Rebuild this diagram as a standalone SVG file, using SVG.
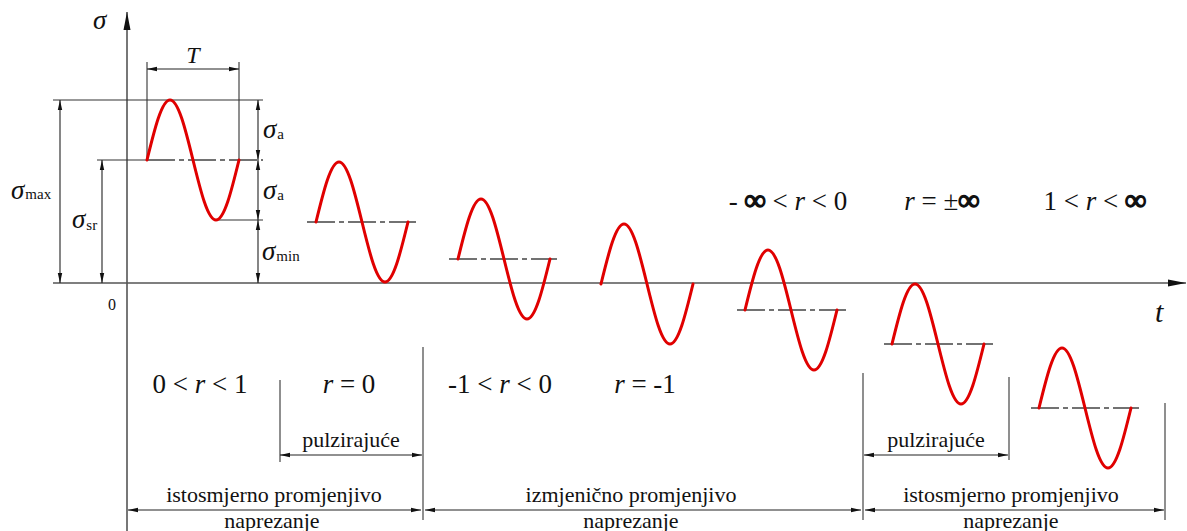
<svg xmlns="http://www.w3.org/2000/svg" xmlns:xlink="http://www.w3.org/1999/xlink" width="1187" height="531" viewBox="0 0 1187 531" font-family="'Liberation Serif', Tinos, 'DejaVu Serif', serif">
<style>
text{font-family:'Liberation Serif',Tinos,'DejaVu Serif',serif;fill:#111}
.lbl{font-size:22px}
.r{font-size:27px}
.i{font-style:italic}
.b{font-weight:bold;font-size:30px;stroke:#111;stroke-width:1.4}
.sg{font-size:27px;font-style:italic}
.sub{font-size:15px;font-style:normal}
.ax{stroke:#555;stroke-width:1.6;fill:none}
.dim{stroke:#222;stroke-width:1.1;fill:none}
.ext{stroke:#333;stroke-width:1.1;fill:none}
.mean{stroke:#444;stroke-width:1.5;fill:none;stroke-dasharray:28 4 5 4}
.wave{stroke:#e00000;stroke-width:3;fill:none;stroke-linecap:round;stroke-linejoin:round}
</style>
<defs>
<marker id="ah" viewBox="0 0 10 6" refX="10" refY="3" markerWidth="10" markerHeight="6" markerUnits="userSpaceOnUse" orient="auto-start-reverse">
<path d="M0,0.8 L10,3 L0,5.2 z" fill="#111"/>
</marker>
<marker id="axh" viewBox="0 0 18 8" refX="18" refY="4" markerWidth="18" markerHeight="8" markerUnits="userSpaceOnUse" orient="auto">
<path d="M0,0.5 L18,4 L0,7.5 z" fill="#111"/>
</marker>
<path id="wv" class="wave" d="M0,0 C7.5,-30.7 14.7,-60 23,-60 C31.3,-60 38.5,-30.7 46,0 C53.5,30.7 60.7,60 69,60 C77.3,60 84.5,30.7 92,0"/>
</defs>

<g id="axes">
<line class="ax" x1="127" y1="531" x2="127" y2="12" marker-end="url(#axh)"/>
<line class="ax" x1="53" y1="283" x2="1186" y2="283" marker-end="url(#axh)"/>
<text x="93" y="29" class="sg">σ</text>
<text x="108" y="310" style="font-size:16px">0</text>
<text x="1155" y="322" class="i" style="font-size:30px">t</text>
</g>

<g id="dimensions">
<line class="ext" x1="53" y1="100" x2="263" y2="100"/>
<line class="ext" x1="97" y1="160" x2="147" y2="160"/>
<line class="ext" x1="217" y1="220" x2="263" y2="220"/>
<line class="ext" x1="147" y1="62" x2="147" y2="160"/>
<line class="ext" x1="239" y1="62" x2="239" y2="160"/>
<line class="dim" x1="147" y1="69" x2="239" y2="69" marker-start="url(#ah)" marker-end="url(#ah)"/>
<text x="193" y="63" class="i" style="font-size:24px" text-anchor="middle">T</text>
<line class="dim" x1="60" y1="100" x2="60" y2="283" marker-start="url(#ah)" marker-end="url(#ah)"/>
<line class="dim" x1="102" y1="160" x2="102" y2="283" marker-start="url(#ah)" marker-end="url(#ah)"/>
<line class="dim" x1="258" y1="100" x2="258" y2="160" marker-start="url(#ah)" marker-end="url(#ah)"/>
<line class="dim" x1="258" y1="160" x2="258" y2="220" marker-start="url(#ah)" marker-end="url(#ah)"/>
<line class="dim" x1="258" y1="220" x2="258" y2="283" marker-start="url(#ah)" marker-end="url(#ah)"/>
<text x="11" y="199" class="sg">σ<tspan class="sub" dx="1">max</tspan></text>
<text x="72" y="228" class="sg">σ<tspan class="sub" dx="1" dy="2">sr</tspan></text>
<text x="263" y="138" class="sg">σ<tspan class="sub" dx="1" dy="1">a</tspan></text>
<text x="263" y="199" class="sg">σ<tspan class="sub" dx="1" dy="1">a</tspan></text>
<text x="262" y="260" class="sg">σ<tspan class="sub" dx="1" dy="1">min</tspan></text>
</g>

<g id="wave1">
<line class="mean" x1="147" y1="160" x2="263" y2="160"/>
<use xlink:href="#wv" x="147" y="160"/>
</g>
<g id="wave2">
<line class="mean" x1="307" y1="222" x2="416" y2="222"/>
<use xlink:href="#wv" x="316" y="222"/>
</g>
<g id="wave3">
<line class="mean" x1="449" y1="259" x2="557" y2="259"/>
<use xlink:href="#wv" x="458" y="259"/>
</g>
<g id="wave4">
<use xlink:href="#wv" x="601" y="284"/>
</g>
<g id="wave5">
<line class="mean" x1="737" y1="310" x2="846" y2="310"/>
<use xlink:href="#wv" x="745" y="310"/>
</g>
<g id="wave6">
<line class="mean" x1="884" y1="344" x2="993" y2="344"/>
<use xlink:href="#wv" x="892" y="344"/>
</g>
<g id="wave7">
<line class="mean" x1="1031" y1="408" x2="1139" y2="408"/>
<use xlink:href="#wv" x="1039" y="408"/>
</g>

<g id="ratios">
<text x="200" y="393" class="r" text-anchor="middle">0 &lt; <tspan class="i">r</tspan> &lt; 1</text>
<text x="349" y="393" class="r" text-anchor="middle"><tspan class="i">r</tspan> = 0</text>
<text x="500" y="393" class="r" text-anchor="middle">-1 &lt; <tspan class="i">r</tspan> &lt; 0</text>
<text x="645" y="393" class="r" text-anchor="middle"><tspan class="i">r</tspan> = -1</text>
<text x="788" y="210" class="r" text-anchor="middle">- <tspan class="b">∞</tspan> &lt; <tspan class="i">r</tspan> &lt; 0</text>
<text x="942" y="210" class="r" text-anchor="middle"><tspan class="i">r</tspan> = ±<tspan class="b">∞</tspan></text>
<text x="1095" y="210" class="r" text-anchor="middle">1 &lt; <tspan class="i">r</tspan> &lt;  <tspan class="b">∞</tspan></text>
</g>

<g id="connectors">
<line class="ext" x1="280" y1="380" x2="280" y2="462"/>
<line class="ext" x1="423" y1="347" x2="423" y2="520"/>
<line class="ext" x1="863" y1="373" x2="863" y2="520"/>
<line class="ext" x1="1009" y1="377" x2="1009" y2="460"/>
<line class="ext" x1="1165" y1="403" x2="1165" y2="520"/>
<line class="dim" x1="280" y1="455" x2="422" y2="455" marker-start="url(#ah)" marker-end="url(#ah)"/>
<line class="dim" x1="864" y1="455" x2="1008" y2="455" marker-start="url(#ah)" marker-end="url(#ah)"/>
<line class="dim" x1="128" y1="510" x2="421" y2="510" marker-start="url(#ah)" marker-end="url(#ah)"/>
<line class="dim" x1="425" y1="510" x2="861" y2="510" marker-start="url(#ah)" marker-end="url(#ah)"/>
<line class="dim" x1="865" y1="510" x2="1164" y2="510" marker-start="url(#ah)" marker-end="url(#ah)"/>
</g>

<g id="ranges">
<text x="351" y="447" class="lbl" text-anchor="middle">pulzirajuće</text>
<text x="936" y="447" class="lbl" text-anchor="middle">pulzirajuće</text>
<text x="274" y="502" class="lbl" text-anchor="middle">istosmjerno promjenjivo</text>
<text x="272" y="528" class="lbl" text-anchor="middle">naprezanje</text>
<text x="631" y="502" class="lbl" text-anchor="middle">izmjenično promjenjivo</text>
<text x="631" y="528" class="lbl" text-anchor="middle">naprezanje</text>
<text x="1011" y="502" class="lbl" text-anchor="middle">istosmjerno promjenjivo</text>
<text x="1011" y="528" class="lbl" text-anchor="middle">naprezanje</text>
</g>
</svg>
